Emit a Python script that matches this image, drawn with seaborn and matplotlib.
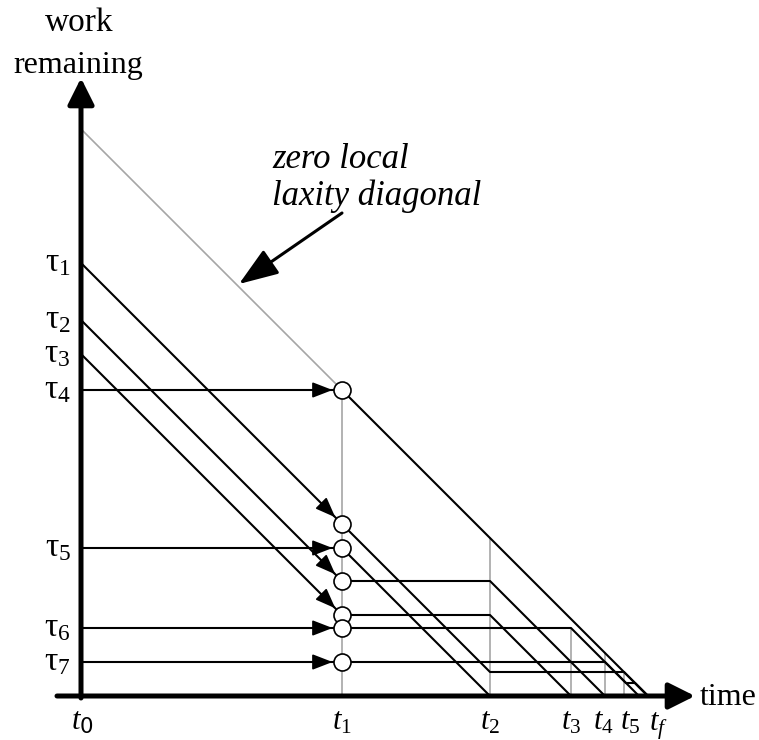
import matplotlib
matplotlib.use("Agg")
import matplotlib.pyplot as plt
import numpy as np
import pandas as pd
import seaborn as sns

sns.set_theme(style="white")
plt.rcParams["font.family"] = ["Liberation Serif", "DejaVu Serif"]
plt.rcParams["text.color"] = "black"
plt.rcParams["mathtext.fontset"] = "custom"
plt.rcParams["mathtext.rm"] = "Liberation Serif"
plt.rcParams["mathtext.it"] = "Liberation Serif:italic"
plt.rcParams["mathtext.sf"] = "DejaVu Sans"

# ---------------- data (time units / work units) -------------
time_labels = [r"$t_{\mathsf{0}}$", r"$t_1$", r"$t_2$", r"$t_3$", r"$t_4$", r"$t_5$", r"$t_f$"]
time_values = [0, 261, 409, 490, 524, 543, 567]

task_labels = [r"$\mathrm{\tau_1}$", r"$\mathrm{\tau_2}$", r"$\mathrm{\tau_3}$", r"$\mathrm{\tau_4}$",
               r"$\mathrm{\tau_5}$", r"$\mathrm{\tau_6}$", r"$\mathrm{\tau_7}$"]
task_work = [433, 376, 342, 306, 148, 68, 34]

# work-remaining trajectories of each task (time, work)
tau1_t = [0, 261, 409, 543, 567]
tau1_w = [433, 172, 24, 24, 0]
tau2_t = [0, 261, 409, 524]
tau2_w = [376, 115, 115, 0]
tau3_t = [0, 261, 409, 490]
tau3_w = [342, 81, 81, 0]
tau4_t = [0, 261, 567]
tau4_w = [306, 306, 0]
tau5_t = [0, 261, 409]
tau5_w = [148, 148, 0]
tau6_t = [0, 261, 490, 545, 554, 567]
tau6_w = [68, 68, 68, 13, 13, 0]
tau7_t = [0, 261, 524, 558]
tau7_w = [34, 34, 34, 0]

diag_t = [0, 261]
diag_w = [567, 306]

# top of the grey marker at t1..t5
marker_top = [306, 158, 68, 43, 24]

# ---------------- build tables ----------------
paths = [(tau1_t, tau1_w), (tau2_t, tau2_w), (tau3_t, tau3_w), (tau4_t, tau4_w),
         (tau5_t, tau5_w), (tau6_t, tau6_w), (tau7_t, tau7_w)]
rows = []
for k, (ts, ws) in enumerate(paths):
    for i, (t, w) in enumerate(zip(ts, ws)):
        rows.append({"task": k, "order": i, "t": t, "w": w})
df_tasks = pd.DataFrame(rows)

grey_rows = []
for i, (t, w) in enumerate(zip(diag_t, diag_w)):
    grey_rows.append({"seg": "diag", "order": i, "t": t, "w": w})
for j, (t, top) in enumerate(zip(time_values[1:6], marker_top)):
    grey_rows.append({"seg": f"m{j}", "order": 0, "t": t, "w": 0})
    grey_rows.append({"seg": f"m{j}", "order": 1, "t": t, "w": top})
df_grey = pd.DataFrame(grey_rows)

# circles at t1
circ = pd.DataFrame({"t": [p[0][1] for p in paths], "w": [p[1][1] for p in paths]})

# ---------------- figure ----------------
fig = plt.figure(figsize=(7.59, 7.40), dpi=100)
ax = fig.add_axes([0, 0, 1, 1])
ax.set_xlim(-81, 678)
ax.set_ylim(-44, 696)
ax.axis("off")

sns.lineplot(data=df_grey, x="t", y="w", units="seg", estimator=None, sort=False,
             color="#a6a6a6", linewidth=1.2, ax=ax, legend=False)
sns.lineplot(data=df_tasks, x="t", y="w", units="task", estimator=None, sort=False,
             color="black", linewidth=1.5, ax=ax, legend=False)

# axes with arrows
ax.annotate("", xy=(0, 618), xytext=(0, -2),
            arrowprops=dict(arrowstyle="-|>,head_length=0.8,head_width=0.4", color="black",
                            lw=3.6, shrinkA=0, shrinkB=0, mutation_scale=20))
ax.annotate("", xy=(614, 0), xytext=(-24, 0),
            arrowprops=dict(arrowstyle="-|>,head_length=0.8,head_width=0.4", color="black",
                            lw=3.6, shrinkA=0, shrinkB=0, mutation_scale=20))

# arrowheads into the circles at t1
r = 9.5
for ts, ws in paths:
    p0 = np.array([ts[0], ws[0]], float)
    p1 = np.array([ts[1], ws[1]], float)
    d = (p1 - p0) / np.linalg.norm(p1 - p0)
    tip = p1 - d * r
    ax.annotate("", xy=tuple(tip), xytext=tuple(tip - d * 20),
                arrowprops=dict(arrowstyle="-|>,head_length=0.62,head_width=0.24", color="black",
                                lw=1.2, shrinkA=0, shrinkB=0, mutation_scale=20))

sns.scatterplot(data=circ, x="t", y="w", s=150, color="white", edgecolor="black",
                linewidth=1.2, ax=ax, zorder=5, legend=False)

# annotation arrow to the zero-laxity diagonal
ax.annotate("", xy=(158, 412), xytext=(261, 483),
            arrowprops=dict(arrowstyle="-|>,head_length=1.1,head_width=0.4", color="black",
                            lw=2.2, shrinkA=0, shrinkB=0, mutation_scale=22))
ax.text(191, 528, "zero local", fontsize=25, style="italic", ha="left", va="baseline")
ax.text(191, 491, "laxity diagonal", fontsize=25, style="italic", ha="left", va="baseline")

# axis titles
ax.text(-2, 665, "work", fontsize=24, ha="center", va="baseline")
ax.text(-3, 623, "remaining", fontsize=23, ha="center", va="baseline")
ax.text(619, -9, "time", fontsize=23, ha="left", va="baseline")

# task labels
for lab, w in zip(task_labels, task_work):
    ax.text(-10, w - 8, lab, fontsize=24, ha="right", va="baseline")

# time labels
label_shift = [1, 0, 0, 0, -2, 6, 10]
for lab, t, s in zip(time_labels, time_values, label_shift):
    ax.text(t + s, -34, lab, fontsize=22, ha="center", va="baseline")

fig.savefig("out.png", dpi=100)
